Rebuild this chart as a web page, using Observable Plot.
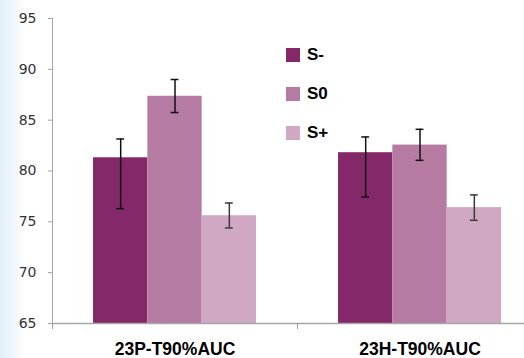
<!DOCTYPE html>
<html><head><meta charset="utf-8">
<script src="https://cdn.jsdelivr.net/npm/d3@7"></script>
<script src="https://cdn.jsdelivr.net/npm/@observablehq/plot@0.6"></script>
<style>
html,body{margin:0;padding:0;width:524px;height:358px;overflow:hidden;background:#fff;}
#wrap{position:relative;width:524px;height:358px;overflow:hidden;
  background:linear-gradient(to right,#e2eff8 0px,#edf5fb 12px,#f8fbfd 20px,#ffffff 26px);}
#wrap svg{position:absolute;left:0;top:0;background:transparent;max-width:none !important;width:542px;height:358px;}
#legend{position:absolute;left:286px;top:0;font:bold 17px 'Liberation Sans',Arial,sans-serif;color:#000;z-index:2;}
.item{position:absolute;left:0;display:flex;align-items:center;white-space:nowrap;height:20px;}
.sw{width:14px;height:14px;margin-right:7px;}
g[aria-label="y-axis tick"]{stroke:#a0a0a0;}
g[aria-label="x-axis tick"]{stroke:#a0a0a0;}
</style>
</head><body>
<div id="wrap"><div id="legend"></div></div>
<script>
const groups = ["23P-T90%AUC", "23H-T90%AUC"];
const series = ["S-", "S0", "S+"];
const means  = [[81.3, 87.35, 75.6], [81.8, 82.55, 76.4]];
const errLow = [[76.3, 85.75, 74.4], [77.45, 81.05, 75.15]];
const errHigh= [[83.15, 89.0, 76.85], [83.35, 84.1, 77.65]];
const colors = ["#85286a", "#b57ba3", "#d0a8c4"];
const errColors = ["#111", "#111", "#3a3a3a"];
const yTicks = [65, 70, 75, 80, 85, 90, 95];
const yMin = 65, yMax = 95;

// layout within each category slot (fractions of a category width)
const gapFrac = 0.1675, barFrac = 0.2217, capFrac = 0.016;

const rows = [];
groups.forEach((g, i) => series.forEach((s, j) => {
  const x1 = i + gapFrac + j * barFrac;
  rows.push({group: g, series: s, x1, x2: x1 + barFrac, xc: x1 + barFrac / 2,
    mean: means[i][j], lo: errLow[i][j], hi: errHigh[i][j], ec: errColors[j]});
}));

const chart = Plot.plot({
  width: 542, height: 358,
  marginLeft: 52, marginRight: 0, marginTop: 18, marginBottom: 35,
  style: {fontFamily: "'DejaVu Sans', sans-serif", fontSize: "14px", color: "#333", background: "transparent", overflow: "visible"},
  x: {domain: [0, groups.length], axis: null},
  y: {domain: [yMin, yMax], axis: null},
  color: {domain: series, range: colors},
  marks: [
    Plot.rect(rows, {x1: "x1", x2: "x2", y1: () => yMin, y2: "mean", fill: "series"}),
    Plot.ruleX(rows, {x: "xc", y1: "lo", y2: "hi", stroke: "ec", strokeWidth: 1.5}),
    Plot.ruleY(rows, {y: "lo", x1: d => d.xc - capFrac, x2: d => d.xc + capFrac, stroke: "ec", strokeWidth: 1.5}),
    Plot.ruleY(rows, {y: "hi", x1: d => d.xc - capFrac, x2: d => d.xc + capFrac, stroke: "ec", strokeWidth: 1.5}),
    Plot.ruleX([0], {y1: yMin, y2: yMax, stroke: "#a6a6a6"}),
    Plot.ruleY([yMin], {stroke: "#a6a6a6", strokeWidth: 1.5}),
    Plot.axisY({ticks: yTicks, tickSize: 4, tickPadding: 12, tickFormat: d => String(d), label: null, fill: "#333"}),
    Plot.axisX({ticks: d3.range(groups.length + 1), tickSize: 6, tickFormat: () => "", label: null}),
    Plot.axisX({ticks: groups.map((g, i) => i + 0.5), tickSize: 0, tickPadding: 19,
      tickFormat: d => groups[Math.floor(d)], label: null,
      fontFamily: "'Liberation Sans', Arial, sans-serif", fontSize: 17.5, fontWeight: "bold", fill: "#000"})
  ]
});
document.getElementById("wrap").appendChild(chart);

const legend = document.getElementById("legend");
series.forEach((s, j) => {
  const it = document.createElement("div");
  it.className = "item";
  it.style.top = (45 + j * 39) + "px";
  it.innerHTML = `<div class="sw" style="background:${colors[j]}"></div><span>${s}</span>`;
  legend.appendChild(it);
});
</script>
</body></html>
